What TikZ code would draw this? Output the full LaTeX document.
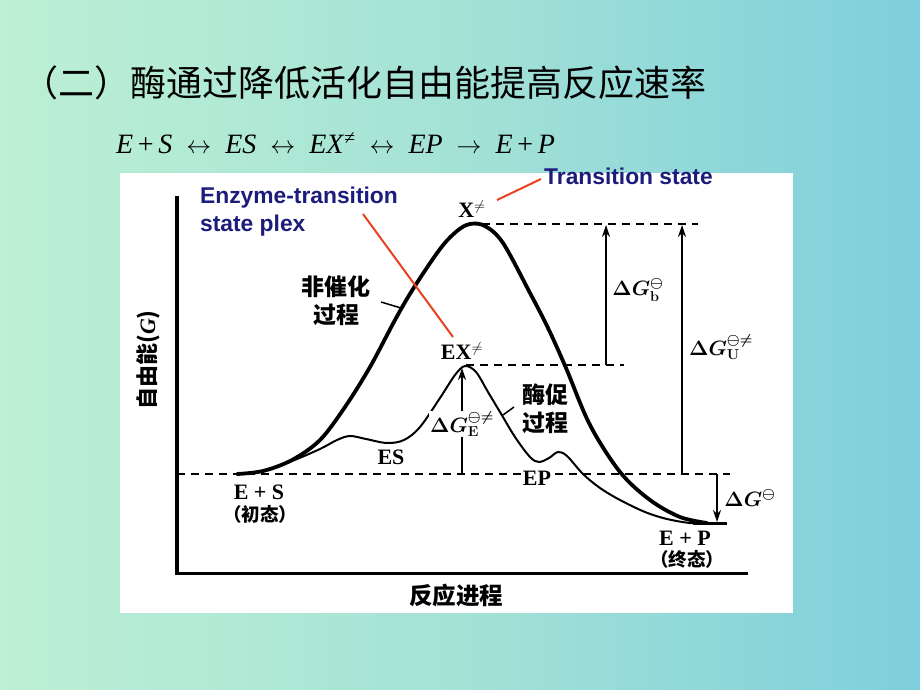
\documentclass[tikz,border=0pt]{standalone}
\usepackage{fontspec}
\setmainfont{Liberation Serif}
\newfontfamily\cjk{Noto Sans CJK SC}
\newfontfamily\arial{Liberation Sans}
\usetikzlibrary{arrows.meta}
\definecolor{bgL}{HTML}{BDF0D4}
\definecolor{bgM}{HTML}{A4E2D6}
\definecolor{bgR}{HTML}{7ECFDC}
\definecolor{navy}{HTML}{1C1C7C}
\definecolor{leadred}{HTML}{E8421E}
\begin{document}
\begin{tikzpicture}[x=1pt,y=-1pt,
  lbl/.style={font=\bfseries\fontsize{22}{24}\selectfont, inner sep=1pt},
  cjklbl/.style={font=\cjk\bfseries\fontsize{23}{28}\selectfont, inner sep=1pt, align=center},
  bluetxt/.style={text=navy, font=\arial\bfseries\fontsize{22.8}{28}\selectfont, inner sep=0, align=left},
  mathlbl/.style={font=\boldmath\fontsize{21}{23}\selectfont, inner sep=1pt},
  dashln/.style={line width=1.3pt, dash pattern=on 8pt off 6pt},
  vec/.style={line width=1.8pt, -{Stealth[length=12pt,width=8pt]}},
  lead/.style={leadred, line width=2pt},
  thickcurve/.style={line width=3.8pt, line cap=round, line join=round},
  thincurve/.style={line width=2pt, line cap=round, line join=round},
]
\useasboundingbox (0,0) rectangle (920,690);
\shade[left color=bgL, right color=bgR, middle color=bgM] (0,0) rectangle (920,690);
\fill[white] (120,173) rectangle (793,613);

% title and equation
\node[anchor=west, inner sep=0, font=\cjk\fontsize{36}{40}\selectfont] (title) at (22,83) {（二）酶通过降低活化自由能提高反应速率};
\node[anchor=west, inner sep=0, font=\fontsize{28}{30}\selectfont] (eq) at (116,143)
  {\textit{E}\,+\,\textit{S}\enspace$\leftrightarrow$\enspace\textit{ES}\enspace$\leftrightarrow$\enspace\textit{EX}\textsuperscript{≠}\enspace$\leftrightarrow$\enspace\textit{EP}\enspace$\rightarrow$\enspace\textit{E}\,+\,\textit{P}};

% axes
\coordinate (ytop) at (177,196);
\coordinate (orig) at (177,573);
\coordinate (xend) at (748,573);
\draw[line width=4.5pt] (ytop) -- (orig);
\draw[line width=3pt] ([xshift=-2pt]orig) -- (xend);

% dashed reference lines
\coordinate (b0) at (177,474); \coordinate (b1) at (730,474);
\coordinate (t0) at (468,224); \coordinate (t1) at (698,224);
\coordinate (m0) at (466,365); \coordinate (m1) at (624,365);
\draw[dashln] (b0) -- (b1);
\draw[dashln] (t0) -- (t1);
\draw[dashln] (m0) -- (m1);

% final level
\coordinate (f0) at (693,523); \coordinate (f1) at (727,523);
\draw[line width=3pt] (f0) -- (f1);

% curves
\draw[thickcurve] plot[smooth, tension=0.55] coordinates {(237,474) (263,471) (292,460) (320,440) (345,407) (370,367) (395,320) (413,289) (440,249) (457,231) (470,224) (485,226) (503,243) (530,293) (548,328) (566,368) (590,425) (620,472) (650,500) (680,517) (707,523)};
\draw[thincurve] plot[smooth, tension=0.55] coordinates {(237,474) (263,471) (292,461) (320,449) (337,440) (350,436) (366,439) (387,443) (404,440) (420,427) (440,398) (455,375) (465,366) (476,372) (488,392) (500,412) (515,437) (530,457) (539,462) (549,458) (558,452) (567,456) (583,474) (600,488) (620,500) (645,512) (667,519) (690,523) (707,523)};

% arrows
\coordinate (ea0) at (462,474); \coordinate (ea1) at (462,368);
\coordinate (ba0) at (606,365); \coordinate (ba1) at (606,225);
\coordinate (ua0) at (682,474); \coordinate (ua1) at (682,225);
\coordinate (ga0) at (717,474); \coordinate (ga1) at (717,522);
\draw[vec] (ea0) -- (ea1);
\draw[vec] (ba0) -- (ba1);
\draw[vec] (ua0) -- (ua1);
\draw[vec] (ga0) -- (ga1);

% labels
\node[lbl] (X) at (472,209) {X$^{\neq}$};
\node[lbl] (EX) at (462,351) {EX$^{\neq}$};
\node[lbl] (ES) at (391,457) {ES};
\node[lbl, fill=white] (EP) at (537,478) {EP};
\node[lbl] (ESs) at (259,492) {E + S};
\node[cjklbl, font=\cjk\bfseries\fontsize{18.5}{22}\selectfont] (ESi) at (260,514) {（初态）};
\node[lbl] (EPp) at (685,538) {E + P};
\node[cjklbl, font=\cjk\bfseries\fontsize{18.5}{22}\selectfont] (EPf) at (687,559) {（终态）};

\node[mathlbl] (dGb) at (638,290) {$\Delta G^{\ominus}_{\mathbf{b}}$};
\node[mathlbl] (dGu) at (721,347) {$\Delta G^{\ominus\neq}_{\mathbf{U}}$};
\node[mathlbl, fill=white] (dGe) at (462,424) {$\Delta G^{\ominus\neq}_{\mathbf{E}}$};
\node[mathlbl] (dG) at (750,498) {$\Delta G^{\ominus}$};

\node[cjklbl] (unc) at (336,301) {非催化\\过程};
\coordinate (uncL0) at (381,302); \coordinate (uncL1) at (401,308);
\draw[line width=1.5pt] (uncL0) -- (uncL1);
\node[cjklbl] (cat) at (545,409) {酶促\\过程};
\coordinate (catL0) at (514,407); \coordinate (catL1) at (503,415);
\draw[line width=1.5pt] (catL0) -- (catL1);

\node[cjklbl, font=\cjk\bfseries\fontsize{23.5}{26}\selectfont] (xlab) at (456,596) {反应进程};
\node[cjklbl, rotate=90, font=\cjk\bfseries\fontsize{22}{24}\selectfont] (ylab) at (148,360) {自由能({\rmfamily\itshape G})};

% blue annotations
\node[bluetxt, anchor=west] (ts) at (544,176) {Transition state};
\node[bluetxt, anchor=north west] (ets) at (200,187) {Enzyme-transition\\state plex};
\coordinate (tsL0) at (541,179); \coordinate (tsL1) at (497,200);
\draw[lead] (tsL0) -- (tsL1);
\coordinate (etL0) at (363,214); \coordinate (etL1) at (453,337);
\draw[lead] (etL0) -- (etL1);
\end{tikzpicture}
\end{document}
